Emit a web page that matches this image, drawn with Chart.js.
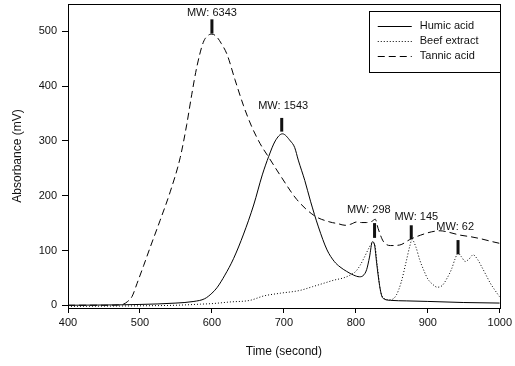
<!DOCTYPE html>
<html lang="en">
<head>
    <meta charset="UTF-8">
    <title>Absorbance vs time</title>
    <script src="https://cdn.jsdelivr.net/npm/chart.js"></script>
    <style>
        html, body { margin: 0; padding: 0; background: #ffffff; }
        #wrap { width: 515px; height: 366px; }
    </style>
</head>
<body>
<div id="wrap"><canvas id="chromatogram" width="515" height="366"></canvas></div>
<script>
    // --- Data: time (s) and absorbance (mV) for each sample ---
    const humicTime = [400, 450, 500, 550, 575, 590, 600, 607, 618, 630, 644, 658, 670, 679, 688, 698, 709, 715, 720, 729, 737, 748, 760, 770, 778, 787, 797, 805, 810, 815, 819, 823, 826, 829, 833, 836, 840, 848, 870, 900, 950, 1000];
    const humicAbs  = [0, 0.5, 1.5, 4, 7, 12, 22, 32, 55, 85, 130, 183, 238, 272, 300, 313, 300, 288, 265, 228, 190, 143, 101, 80, 70, 62, 55, 52, 54, 65, 88, 116, 110, 76, 36, 17, 11, 9, 8, 7, 5, 4];

    const beefTime = [400, 500, 550, 584, 600, 625, 653, 672, 695, 722, 740, 755, 770, 783, 792, 800, 806, 812, 818, 823, 826, 830, 834, 840, 848, 856, 863, 870, 875, 878, 883, 889, 895, 900, 907, 913, 920, 927, 933, 938, 942, 947, 952, 957, 963, 969, 975, 981, 987, 993, 1000];
    const beefAbs  = [-2, -1, 0, 2, 3, 6, 9, 17, 22, 27, 34, 40, 46, 50, 55, 62, 73, 88, 104, 114, 112, 70, 28, 12, 10, 18, 42, 80, 108, 120, 108, 82, 62, 48, 38, 33, 36, 50, 66, 85, 95, 88, 80, 84, 92, 84, 70, 55, 40, 28, 15];

    const tannicTime = [400, 450, 470, 477, 483, 489, 496, 505, 514, 528, 542, 556, 565, 572, 579, 588, 595, 600, 606, 613, 621, 632, 644, 655, 667, 679, 695, 718, 743, 764, 775, 785, 793, 801, 808, 815, 822, 827, 831, 838, 848, 861, 875, 890, 905, 917, 930, 945, 960, 975, 990, 1000];
    const tannicAbs  = [0, 0, 0.5, 2, 7, 16, 40, 72, 105, 155, 207, 270, 330, 385, 435, 480, 493, 495, 491, 478, 458, 412, 364, 327, 295, 270, 237, 193, 163, 152, 149, 146, 148, 152, 151, 151, 153, 157, 140, 117, 109, 110, 120, 128, 134, 136, 133, 128, 125, 121, 116, 113];

    // Molecular weight markers: peak time, tick span, label anchor
    const mwLabels   = ['MW: 6343', 'MW: 1543', 'MW: 298', 'MW: 145', 'MW: 62'];
    const mwTime     = [600, 697, 826, 877, 942];
    const mwTickLow  = [496, 317, 123, 121, 93];
    const mwTickHigh = [522, 342, 150, 146, 119];
    const mwTextTime = [600, 699, 818, 884, 938];
    const mwTextAbs  = [533, 363, 174, 161, 143];

    const seriesNames = ['Humic acid', 'Beef extract', 'Tannic acid'];
    const seriesDash  = [[], [1, 2], [7, 4]];

    const xTicks = [400, 500, 600, 700, 800, 900, 1000];
    const yTicks = [0, 100, 200, 300, 400, 500];

    const toPoints = (ts, vs) => ts.map((t, i) => ({ x: t, y: vs[i] }));

    const FONT = "'Liberation Sans', Arial, sans-serif";

    // Frame, MW markers and boxed legend
    const decorations = {
        id: 'decorations',
        afterDatasetsDraw(chart) {
            const { ctx, chartArea: a, scales: { x, y } } = chart;
            ctx.save();

            // full box around the plot
            ctx.strokeStyle = '#000';
            ctx.lineWidth = 1;
            ctx.strokeRect(Math.round(a.left) + 0.5, Math.round(a.top) + 0.5,
                           Math.round(a.right - a.left), Math.round(a.bottom - a.top));

            // MW ticks and labels
            ctx.fillStyle = '#111';
            ctx.font = '11px ' + FONT;
            ctx.textAlign = 'center';
            ctx.textBaseline = 'middle';
            mwLabels.forEach((lbl, i) => {
                const px = x.getPixelForValue(mwTime[i]);
                ctx.fillRect(px - 1.5, y.getPixelForValue(mwTickHigh[i]), 3,
                             y.getPixelForValue(mwTickLow[i]) - y.getPixelForValue(mwTickHigh[i]));
                ctx.fillText(lbl, x.getPixelForValue(mwTextTime[i]), y.getPixelForValue(mwTextAbs[i]));
            });

            // legend box in the upper right corner
            const bx = a.right - 131, by = a.top + 6.5, bw = 131, bh = 61;
            ctx.fillStyle = '#fff';
            ctx.fillRect(bx, by, bw, bh);
            ctx.strokeStyle = '#000';
            ctx.strokeRect(Math.round(bx) + 0.5, Math.round(by) + 0.5, bw, bh);
            ctx.textAlign = 'left';
            ctx.fillStyle = '#111';
            seriesNames.forEach((name, i) => {
                const ly = by + 15.5 + i * 15;
                ctx.beginPath();
                ctx.setLineDash(seriesDash[i]);
                ctx.moveTo(bx + 9, Math.round(ly) + 0.5);
                ctx.lineTo(bx + 43, Math.round(ly) + 0.5);
                ctx.stroke();
                ctx.setLineDash([]);
                ctx.fillText(name, bx + 51, ly);
            });
            ctx.restore();
        }
    };

    const makeSet = (label, pts, dash) => ({
        label: label,
        data: pts,
        borderColor: '#000',
        borderWidth: 1,
        borderDash: dash,
        pointRadius: 0,
        fill: false,
        cubicInterpolationMode: 'monotone'
    });

    new Chart(document.getElementById('chromatogram'), {
        type: 'line',
        data: {
            datasets: [
                makeSet(seriesNames[0], toPoints(humicTime, humicAbs), seriesDash[0]),
                makeSet(seriesNames[1], toPoints(beefTime, beefAbs), seriesDash[1]),
                makeSet(seriesNames[2], toPoints(tannicTime, tannicAbs), seriesDash[2])
            ]
        },
        options: {
            responsive: false,
            animation: false,
            layout: { padding: { left: 0, right: 15, top: 4, bottom: 0 } },
            plugins: { legend: { display: false }, tooltip: { enabled: false } },
            scales: {
                x: {
                    type: 'linear',
                    min: 400,
                    max: 1000,
                    afterBuildTicks: s => { s.ticks = xTicks.map(v => ({ value: v })); },
                    afterFit: s => { s.height = 58; },
                    grid: { drawOnChartArea: false, tickLength: 5, color: '#000' },
                    border: { color: '#000' },
                    ticks: { color: '#111', font: { family: FONT, size: 11 }, padding: 3, maxRotation: 0,
                             callback: v => String(v) },
                    title: { display: true, text: 'Time (second)', color: '#111', font: { family: FONT, size: 12 }, padding: { top: 4, bottom: 7 } }
                },
                y: {
                    min: -5,
                    max: 550,
                    afterBuildTicks: s => { s.ticks = yTicks.map(v => ({ value: v })); },
                    // fixed width; no reserved space above the top tick label
                    afterFit: s => { s.width = 68; s.paddingTop = 0; s.paddingBottom = 0; },
                    grid: { drawOnChartArea: false, tickLength: 6, color: '#000' },
                    border: { color: '#000' },
                    ticks: { color: '#111', font: { family: FONT, size: 11 }, padding: 5 },
                    title: { display: true, text: 'Absorbance (mV)', color: '#111', font: { family: FONT, size: 12 }, padding: { top: 10, bottom: 4 } }
                }
            }
        },
        plugins: [decorations]
    });
</script>
</body>
</html>
